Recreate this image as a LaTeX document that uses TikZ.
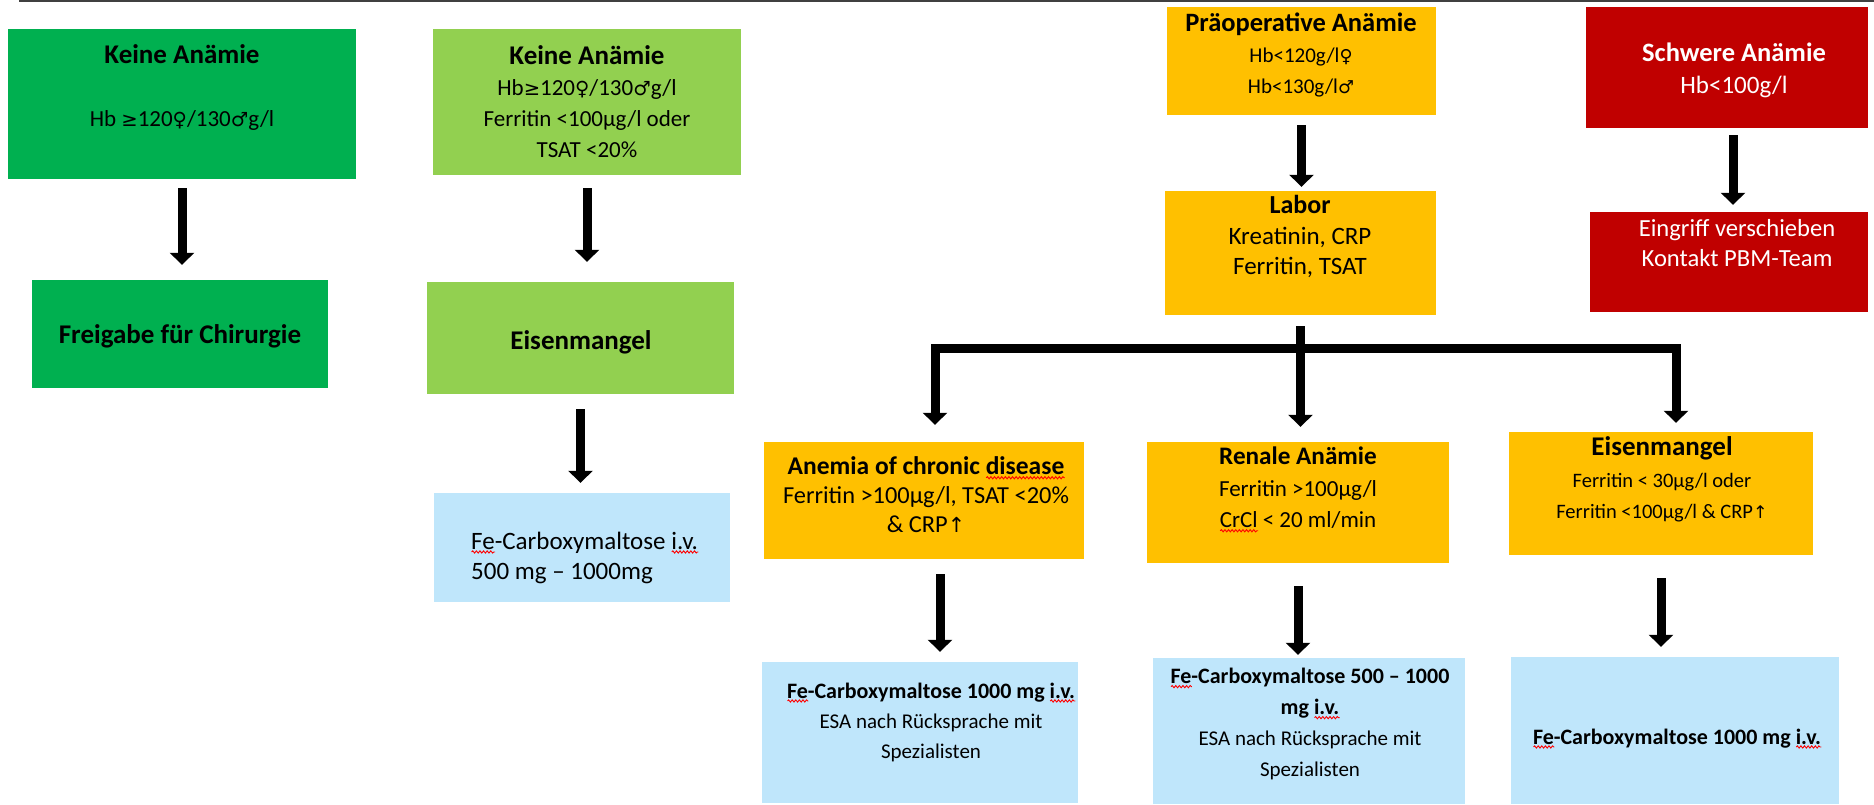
\documentclass[tikz,border=0pt]{standalone}
\usepackage{fontspec}
\setmainfont{Carlito}
\newfontfamily\sym[Scale=0.85]{DejaVu Sans}
\usetikzlibrary{arrows.meta,calc,decorations.pathmorphing}
\definecolor{dgreen}{HTML}{00B050}
\definecolor{lgreen}{HTML}{92D050}
\definecolor{orng}{HTML}{FFC000}
\definecolor{dred}{HTML}{C00000}
\definecolor{lblue}{HTML}{BFE6FB}
\newcommand\fs[2]{\fontsize{#1}{#2}\selectfont}
\newcommand\hd[2]{{\bfseries\fontsize{#1}{#1}\selectfont #2}}
\newcommand\fem{{\sym ♀}}
\newcommand\mal{{\sym ♂}}
\newcommand\gte{{\sym ≥}}
\newcommand\upar{{\sym ↑}}
\newsavebox\sqbox
\newlength\sqlen
\newcommand\sq[1]{\sbox\sqbox{#1}\setlength\sqlen{\wd\sqbox}\leavevmode\rlap{\usebox\sqbox}\makebox[\sqlen][l]{\raisebox{-4.5pt}[0pt][0pt]{\tikz[x=1pt,y=1pt]\draw[red, line width=0.9pt, decorate, decoration={snake, amplitude=1.1pt, segment length=3.6pt}] (0,0) -- (\sqlen,0);}}}
\tikzset{
  box/.style={fill=#1, draw=none, inner sep=0pt},
  txt/.style={align=center, inner sep=0pt, text=black},
  arr/.style={line width=9pt, -{Triangle[width=24pt,length=12pt]}},
}
\begin{document}
\begin{tikzpicture}[x=1pt,y=-1pt]
\useasboundingbox (0,0) rectangle (1874,805);
\draw[line width=2.5pt, black!75] (19,1) -- (1874,1);

% boxes
\node[box=dgreen, minimum width=348pt, minimum height=150pt] (b1) at (182,104) {};
\node[box=dgreen, minimum width=296pt, minimum height=108pt] (b1b) at (180,334) {};
\node[box=lgreen, minimum width=308pt, minimum height=146pt] (b2) at (587,102) {};
\node[box=lgreen, minimum width=307pt, minimum height=112pt] (b2b) at (580.5,338) {};
\node[box=lblue, minimum width=296pt, minimum height=109pt] (b2c) at (582,547.5) {};
\node[box=orng, minimum width=269pt, minimum height=108pt] (p1) at (1301.5,61) {};
\node[box=orng, minimum width=271pt, minimum height=124pt] (p2) at (1300.5,253) {};
\node[box=dred, minimum width=282pt, minimum height=121pt] (r1) at (1727,67.5) {};
\node[box=dred, minimum width=278pt, minimum height=100pt] (r2) at (1729,262) {};
\node[box=orng, minimum width=320pt, minimum height=117pt] (a1) at (924,500.5) {};
\node[box=orng, minimum width=302pt, minimum height=121pt] (a2) at (1298,502.5) {};
\node[box=orng, minimum width=304pt, minimum height=123pt] (a3) at (1661,493.5) {};
\node[box=lblue, minimum width=316pt, minimum height=141pt] (c1) at (920,732.5) {};
\node[box=lblue, minimum width=312pt, minimum height=146pt] (c2) at (1309,731) {};
\node[box=lblue, minimum width=328pt, minimum height=147pt] (c3) at (1675,730.5) {};

% texts
\node[txt, font=\fs{23}{31}] (t1) at (182,88.5) {\strut\hd{27}{Keine Anämie}\\[32pt]Hb \gte120\fem/130\mal g/l\strut};
\node[txt, font=\fs{27}{32}\bfseries] (t1b) at (180,337) {\strut Freigabe für Chirurgie\strut};
\node[txt, font=\fs{23}{31}] (t2) at (587,105) {\strut\hd{27}{Keine Anämie}\\Hb\gte120\fem/130\mal g/l\\Ferritin <100µg/l oder\\TSAT <20\%\strut};
\node[txt, font=\fs{27}{32}\bfseries] (t2b) at (581,343) {\strut Eisenmangel\strut};
\node[txt, align=left, anchor=west, font=\fs{25}{30}] (t2c) at (471,558) {\strut\sq{Fe}-Carboxymaltose \sq{i.v.}\\500 mg – 1000mg\strut};
\node[txt, font=\fs{21}{31}] (tp1) at (1301,56) {\strut\hd{26.5}{Präoperative Anämie}\\Hb<120g/l\fem\\Hb<130g/l\mal\strut};
\node[txt, font=\fs{25}{30.5}] (tp2) at (1300,238) {\strut\hd{26}{Labor}\\Kreatinin, CRP\\Ferritin, TSAT\strut};
\node[txt, text=white, font=\fs{25}{32}] (tr1) at (1734,71) {\strut\hd{26.5}{Schwere Anämie}\\Hb<100g/l\strut};
\node[txt, text=white, font=\fs{24.6}{30}] (tr2) at (1737,245) {\strut Eingriff verschieben\\Kontakt PBM-Team\strut};
\node[txt, font=\fs{24.4}{29}] (ta1) at (926,498) {\strut\hd{25.5}{Anemia of chronic \sq{disease}}\\Ferritin >100µg/l, TSAT <20\%\\\& CRP\upar\strut};
\node[txt, font=\fs{23}{31.5}] (ta2) at (1298,490) {\strut\hd{25.2}{Renale Anämie}\\Ferritin >100µg/l\\\sq{CrCl} < 20 ml/min\strut};
\node[txt, font=\fs{20.5}{31.5}] (ta3) at (1662,481) {\strut\hd{27}{Eisenmangel}\\Ferritin < 30µg/l oder\\Ferritin <100µg/l \& CRP\upar\strut};
\node[txt, font=\fs{21}{30}] (tc1) at (931,722) {\strut\hd{22}{\sq{Fe}-Carboxymaltose 1000 mg \sq{i.v.}}\\ESA nach Rücksprache mit\\Spezialisten\strut};
\node[txt, font=\fs{21}{31}] (tc2) at (1310,724) {\strut\hd{22}{\sq{Fe}-Carboxymaltose 500 – 1000}\\\hd{22}{mg \sq{i.v.}}\\ESA nach Rücksprache mit\\Spezialisten\strut};
\node[txt, font=\fs{22}{30}\bfseries] (tc3) at (1677,738) {\strut\sq{Fe}-Carboxymaltose 1000 mg \sq{i.v.}\strut};

% arrows
\draw[arr, shorten <=9pt, shorten >=15pt] (b1.south) -- (b1.south |- b1b.north);
\draw[arr, shorten <=13pt, shorten >=20pt] (b2.south) -- (b2.south |- b2b.north);
\draw[arr, shorten <=15pt, shorten >=10pt] (b2b.south) -- (b2b.south |- b2c.north);
\draw[arr, shorten <=10pt, shorten >=4pt] (p1.south) -- (p1.south |- p2.north);
\draw[arr, shorten <=7pt, shorten >=7pt] ([xshift=6pt]r1.south) -- ([xshift=6pt]r1.south |- r2.north);

% branch
\coordinate (jl) at (935,348);
\coordinate (jr) at (1676,348);
\draw[arr, shorten <=11pt, shorten >=15pt] (p2.south) -- (p2.south |- a2.north);
\draw[line width=9pt, line join=miter, {Triangle[width=24pt,length=12pt]}-{Triangle[width=24pt,length=12pt]}, shorten <=17pt, shorten >=9pt] (jl |- a1.north) -- (jl) -- (jr) -- (jr |- a3.north);

\draw[arr, shorten <=15pt, shorten >=10pt] ([xshift=16pt]a1.south) -- ([xshift=16pt]a1.south |- c1.north);
\draw[arr, shorten <=23pt, shorten >=3pt] (a2.south) -- (a2.south |- c2.north);
\draw[arr, shorten <=23pt, shorten >=10pt] (a3.south) -- (a3.south |- c3.north);
\end{tikzpicture}
\end{document}
